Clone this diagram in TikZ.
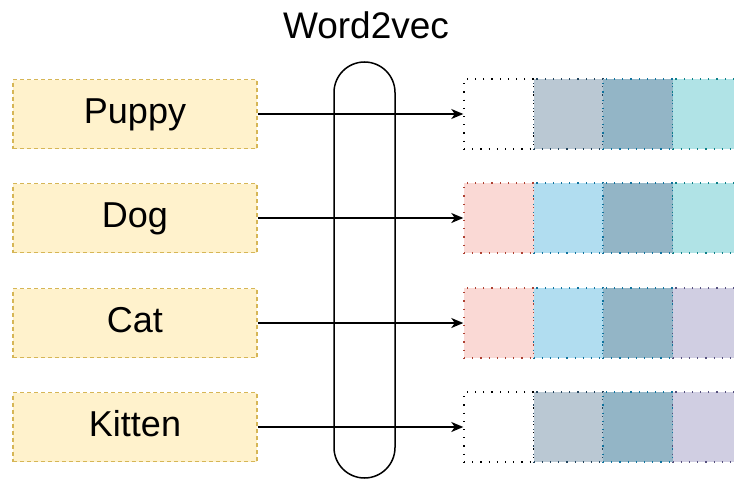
\documentclass[tikz,border=0pt]{standalone}
\usepackage{fontspec}
\setmainfont{Liberation Sans}
\usetikzlibrary{arrows.meta}
\definecolor{wfill}{HTML}{FFF2CC}
\definecolor{wdraw}{HTML}{D6B656}
\definecolor{gfill}{HTML}{BAC8D3}
\definecolor{gdraw}{HTML}{23445D}
\definecolor{dfill}{HTML}{93B5C6}
\definecolor{ddraw}{HTML}{10739E}
\definecolor{tfill}{HTML}{B0E3E6}
\definecolor{tdraw}{HTML}{0E8088}
\definecolor{rfill}{HTML}{FAD9D5}
\definecolor{rdraw}{HTML}{AE4132}
\definecolor{bfill}{HTML}{B1DDF0}
\definecolor{bdraw}{HTML}{10739E}
\definecolor{pfill}{HTML}{D0CEE2}
\definecolor{pdraw}{HTML}{56517E}
\tikzset{
  x=1pt, y=-1pt,
  word/.style={draw=wdraw, fill=wfill, line width=1.3pt, dash pattern=on 4pt off 3pt,
    minimum width=244pt, minimum height=69pt, inner sep=0pt, text height=26pt, text depth=7.6pt,
    font=\fontsize{36}{42}\selectfont},
  cell/.style={line width=1.4pt, dash pattern=on 1.2pt off 7pt, minimum width=69.5pt, minimum height=70pt, inner sep=0pt},
  c0/.style={cell, draw=black, fill=white},
  cg/.style={cell, draw=gdraw, fill=gfill},
  cd/.style={cell, draw=ddraw, fill=dfill},
  ct/.style={cell, draw=tdraw, fill=tfill},
  cr/.style={cell, draw=rdraw, fill=rfill},
  cb/.style={cell, draw=bdraw, fill=bfill},
  cp/.style={cell, draw=pdraw, fill=pfill},
  conn/.style={line width=1.5pt, -{Stealth[length=12pt,width=10pt,inset=3.5pt]}},
}
\begin{document}
\begin{tikzpicture}
\clip (0,0) rectangle (734,479);
\fill[white] (0,0) rectangle (734,479);
% capsule
\draw[line width=1.5pt, rounded corners=30.5pt] (334,62) rectangle (395,478);
\node[font=\fontsize{37}{42}\selectfont] (title) at (366,25) {Word2vec};
% word boxes
\node[word] (w1) at (135,114) {Puppy};
\node[word] (w2) at (135,218) {Dog};
\node[word] (w3) at (135,323) {Cat};
\node[word] (w4) at (135,427) {Kitten};
% vectors
\node[c0] (v11) at (498.75,114) {};
\node[cg] (v12) at (568.25,114) {};
\node[cd] (v13) at (637.75,114) {};
\node[ct] (v14) at (707.25,114) {};
\node[cr] (v21) at (498.75,218) {};
\node[cb] (v22) at (568.25,218) {};
\node[cd] (v23) at (637.75,218) {};
\node[ct] (v24) at (707.25,218) {};
\node[cr] (v31) at (498.75,323) {};
\node[cb] (v32) at (568.25,323) {};
\node[cd] (v33) at (637.75,323) {};
\node[cp] (v34) at (707.25,323) {};
\node[c0] (v41) at (498.75,427) {};
\node[cg] (v42) at (568.25,427) {};
\node[cd] (v43) at (637.75,427) {};
\node[cp] (v44) at (707.25,427) {};
% connectors
\draw[conn] (w1.east) -- (v11.west);
\draw[conn] (w2.east) -- (v21.west);
\draw[conn] (w3.east) -- (v31.west);
\draw[conn] (w4.east) -- (v41.west);
\end{tikzpicture}
\end{document}
